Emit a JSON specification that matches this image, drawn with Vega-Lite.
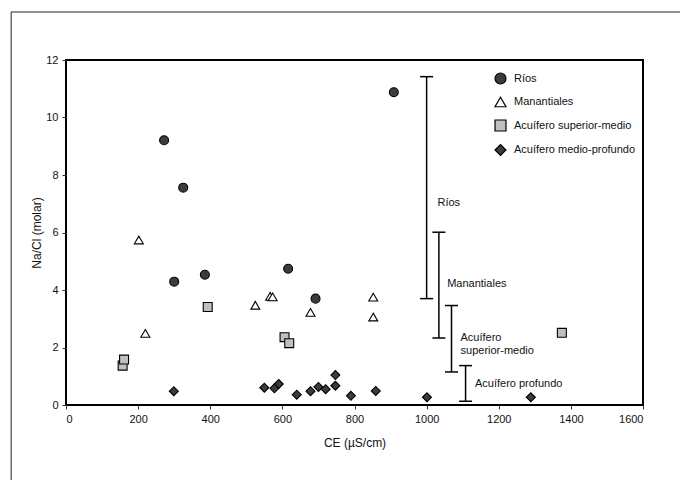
{
  "$schema": "https://vega.github.io/schema/vega-lite/v6.json",
  "width": 577,
  "height": 345,
  "autosize": {"type": "none"},
  "padding": {"left": 66, "top": 60, "right": 37, "bottom": 75},
  "background": "white",
  "datasets": {
    "muestras": [
      {"grupo": "Ríos", "ce": 272, "nacl": 9.21},
      {"grupo": "Ríos", "ce": 325, "nacl": 7.56},
      {"grupo": "Ríos", "ce": 300, "nacl": 4.29},
      {"grupo": "Ríos", "ce": 385, "nacl": 4.53},
      {"grupo": "Ríos", "ce": 616, "nacl": 4.74},
      {"grupo": "Ríos", "ce": 692, "nacl": 3.70},
      {"grupo": "Ríos", "ce": 909, "nacl": 10.88},
      {"grupo": "Manantiales", "ce": 202, "nacl": 5.74},
      {"grupo": "Manantiales", "ce": 220, "nacl": 2.49},
      {"grupo": "Manantiales", "ce": 525, "nacl": 3.47},
      {"grupo": "Manantiales", "ce": 566, "nacl": 3.78},
      {"grupo": "Manantiales", "ce": 573, "nacl": 3.76},
      {"grupo": "Manantiales", "ce": 678, "nacl": 3.22},
      {"grupo": "Manantiales", "ce": 852, "nacl": 3.75},
      {"grupo": "Manantiales", "ce": 852, "nacl": 3.06},
      {"grupo": "Acuífero superior-medio", "ce": 157, "nacl": 1.37},
      {"grupo": "Acuífero superior-medio", "ce": 161, "nacl": 1.58},
      {"grupo": "Acuífero superior-medio", "ce": 393, "nacl": 3.41},
      {"grupo": "Acuífero superior-medio", "ce": 606, "nacl": 2.36},
      {"grupo": "Acuífero superior-medio", "ce": 619, "nacl": 2.15},
      {"grupo": "Acuífero superior-medio", "ce": 1375, "nacl": 2.51},
      {"grupo": "Acuífero medio-profundo", "ce": 299, "nacl": 0.48},
      {"grupo": "Acuífero medio-profundo", "ce": 550, "nacl": 0.60},
      {"grupo": "Acuífero medio-profundo", "ce": 578, "nacl": 0.58},
      {"grupo": "Acuífero medio-profundo", "ce": 590, "nacl": 0.73},
      {"grupo": "Acuífero medio-profundo", "ce": 640, "nacl": 0.36},
      {"grupo": "Acuífero medio-profundo", "ce": 678, "nacl": 0.48},
      {"grupo": "Acuífero medio-profundo", "ce": 700, "nacl": 0.63},
      {"grupo": "Acuífero medio-profundo", "ce": 720, "nacl": 0.55},
      {"grupo": "Acuífero medio-profundo", "ce": 747, "nacl": 1.04},
      {"grupo": "Acuífero medio-profundo", "ce": 747, "nacl": 0.67},
      {"grupo": "Acuífero medio-profundo", "ce": 790, "nacl": 0.32},
      {"grupo": "Acuífero medio-profundo", "ce": 859, "nacl": 0.49},
      {"grupo": "Acuífero medio-profundo", "ce": 1001, "nacl": 0.27},
      {"grupo": "Acuífero medio-profundo", "ce": 1289, "nacl": 0.27}
    ],
    "rangos": [
      {"grupo": "Ríos", "ce": 1000, "lo": 3.70, "hi": 11.42},
      {"grupo": "Manantiales", "ce": 1034, "lo": 2.33, "hi": 6.01},
      {"grupo": "Acuífero superior-medio", "ce": 1069, "lo": 1.15, "hi": 3.46},
      {"grupo": "Acuífero profundo", "ce": 1108, "lo": 0.13, "hi": 1.37}
    ],
    "etiquetas": [
      {"texto": "Ríos", "ce": 1030, "nacl": 7.03},
      {"texto": "Manantiales", "ce": 1057, "nacl": 4.22},
      {"texto": "Acuífero\nsuperior-medio", "ce": 1094, "nacl": 2.33},
      {"texto": "Acuífero profundo", "ce": 1134, "nacl": 0.74}
    ]
  },
  "layer": [
    {
      "data": {"values": [{}]},
      "mark": {"type": "rule", "color": "#222", "strokeWidth": 1},
      "encoding": {
        "x": {"datum": -152, "type": "quantitative", "scale": {"domain": [0, 1600]}},
        "y": {"datum": 13.67, "type": "quantitative", "scale": {"domain": [0, 12]}},
        "y2": {"datum": -5}
      }
    },
    {
      "data": {"values": [{}]},
      "mark": {"type": "rule", "color": "#222", "strokeWidth": 1},
      "encoding": {
        "x": {"datum": -152, "type": "quantitative"},
        "x2": {"datum": 1900},
        "y": {"datum": 13.67, "type": "quantitative"}
      }
    },
    {
      "data": {"name": "rangos"},
      "mark": {"type": "rule", "color": "black", "strokeWidth": 1.5},
      "encoding": {
        "x": {"field": "ce", "type": "quantitative"},
        "y": {"field": "lo", "type": "quantitative"},
        "y2": {"field": "hi"}
      }
    },
    {
      "data": {"name": "rangos"},
      "mark": {"type": "tick", "orient": "horizontal", "color": "black", "size": 13, "thickness": 1.5, "opacity": 1},
      "encoding": {
        "x": {"field": "ce", "type": "quantitative"},
        "y": {"field": "lo", "type": "quantitative"}
      }
    },
    {
      "data": {"name": "rangos"},
      "mark": {"type": "tick", "orient": "horizontal", "color": "black", "size": 13, "thickness": 1.5, "opacity": 1},
      "encoding": {
        "x": {"field": "ce", "type": "quantitative"},
        "y": {"field": "hi", "type": "quantitative"}
      }
    },
    {
      "data": {"name": "etiquetas"},
      "mark": {"type": "text", "align": "left", "baseline": "middle", "font": "Liberation Sans", "fontSize": 11, "color": "#111", "lineBreak": "\n", "lineHeight": 13},
      "encoding": {
        "x": {"field": "ce", "type": "quantitative"},
        "y": {"field": "nacl", "type": "quantitative"},
        "text": {"field": "texto"}
      }
    },
    {
      "data": {"name": "muestras"},
      "mark": {"type": "point", "filled": true, "opacity": 1, "strokeWidth": 1.1, "size": 80},
      "encoding": {
        "x": {
          "field": "ce",
          "type": "quantitative",
          "scale": {"domain": [0, 1600], "nice": false},
          "axis": {"values": [0, 200, 400, 600, 800, 1000, 1200, 1400, 1600], "format": "d", "title": "CE (µS/cm)"}
        },
        "y": {
          "field": "nacl",
          "type": "quantitative",
          "scale": {"domain": [0, 12], "nice": false},
          "axis": {"values": [0, 2, 4, 6, 8, 10, 12], "format": "d", "title": "Na/Cl (molar)"}
        },
        "shape": {
          "field": "grupo",
          "type": "nominal",
          "scale": {
            "domain": ["Ríos", "Manantiales", "Acuífero superior-medio", "Acuífero medio-profundo"],
            "range": ["circle", "triangle-up", "square", "diamond"]
          },
          "legend": {"title": null, "orient": "none", "legendX": 428, "legendY": 12, "rowPadding": 7.5, "symbolSize": 120, "symbolStrokeWidth": 1.2}
        },
        "fill": {
          "field": "grupo",
          "type": "nominal",
          "scale": {
            "domain": ["Ríos", "Manantiales", "Acuífero superior-medio", "Acuífero medio-profundo"],
            "range": ["#3c3c3c", "#ffffff", "#c0c0c0", "#3c3c3c"]
          },
          "legend": {"title": null, "orient": "none", "legendX": 428, "legendY": 12, "rowPadding": 7.5, "symbolSize": 120, "symbolStrokeWidth": 1.2}
        },
        "stroke": {
          "field": "grupo",
          "type": "nominal",
          "scale": {
            "domain": ["Ríos", "Manantiales", "Acuífero superior-medio", "Acuífero medio-profundo"],
            "range": ["black", "black", "black", "black"]
          },
          "legend": {"title": null, "orient": "none", "legendX": 428, "legendY": 12, "rowPadding": 7.5, "symbolSize": 120, "symbolStrokeWidth": 1.2}
        }
      }
    }
  ],
  "config": {
    "font": "Liberation Sans",
    "view": {"stroke": "black", "strokeWidth": 2},
    "axis": {
      "grid": false,
      "domain": false,
      "ticks": true,
      "tickColor": "#333",
      "tickSize": 4,
      "tickWidth": 1,
      "labelFont": "Liberation Sans",
      "labelFontSize": 11,
      "labelColor": "#111",
      "labelPadding": 4,
      "titleFont": "Liberation Sans",
      "titleFontSize": 12,
      "titleFontWeight": "normal",
      "titleColor": "#111"
    },
    "axisX": {"titlePadding": 13},
    "axisY": {"titlePadding": 2},
    "legend": {
      "padding": 0,
      "labelFont": "Liberation Sans",
      "labelFontSize": 11,
      "labelColor": "#111",
      "labelOffset": 7
    }
  }
}
